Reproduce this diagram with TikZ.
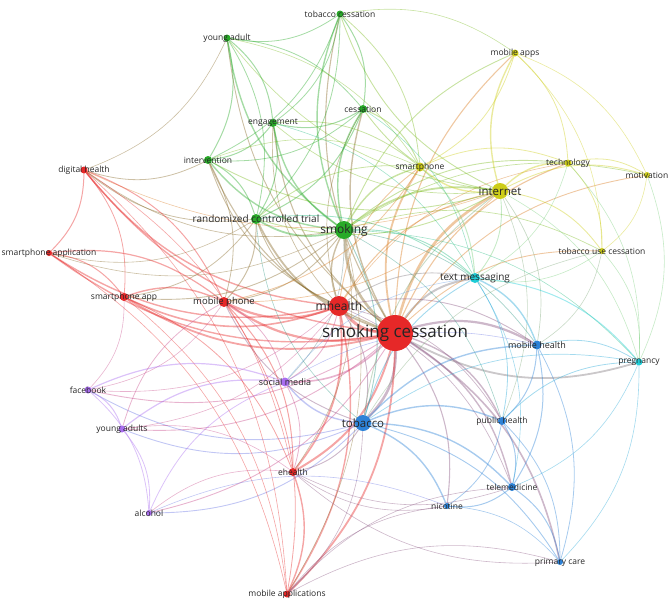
\documentclass[tikz,border=0pt]{standalone}
\usepackage{fontspec}
\setmainfont{Open Sans}
\usepackage{xcolor}
\usetikzlibrary{backgrounds}

\definecolor{cR}{RGB}{230,40,40}
\definecolor{cG}{RGB}{40,170,40}
\definecolor{cB}{RGB}{45,130,215}
\definecolor{cY}{RGB}{205,205,25}
\definecolor{cP}{RGB}{170,110,240}
\definecolor{cC}{RGB}{30,205,215}

\begin{document}
\begin{tikzpicture}[x=1pt, y=-1pt,
  kw/.style={circle, inner sep=0pt, draw=none},
  lbl/.style={inner sep=0pt, text=black!85},
  lnk/.style={draw opacity=0.42, line cap=round}]
  \useasboundingbox (0,0) rectangle (669,603);

  % keywords: name/x/y/cluster/radius
  \foreach \n/\x/\y/\c/\r in {
      sc/395/333/cR/18, mh/339/306/cR/10, smk/344/230/cG/9, int/500/191/cY/8,
      tob/363/423/cB/8, tm/475/278/cC/5, rct/256/219/cG/5, mp/224/302/cR/5,
      mobh/537/345/cB/4.5, sm/285/382/cP/4.5, sp/420/167/cY/4.5, ces/363/109/cG/4,
      eng/273/123/cG/4, itv/208/160/cG/4, eh/293/472/cR/4, sapp/124/297/cR/4,
      ph/502/421/cB/4, tmed/512/487/cB/4, tech/568/163/cY/3.5, tc/340/14/cG/3.5,
      ya/227/38/cG/3.5, ma/515/53/cY/3.5, mot/647/175/cY/3, dh/84/170/cR/3.5,
      spa/49/253/cR/3, tuc/602/251/cY/3, preg/639/362/cC/3.5, fb/88/390/cP/3.5,
      yas/122/429/cP/3.5, alc/149/513/cP/3, nic/447/506/cB/3, pc/560/562/cB/3,
      mapp/287/594/cR/3.5}{
    \node[kw, fill=\c, minimum size=2*\r pt] (\n) at (\x,\y) {};
    \xglobal\colorlet{k\n}{\c}
  }

  % links
  \begin{pgfonlayer}{background}
  \foreach \a/\b/\w in {
      sc/mh/3, sc/smk/2.6, sc/tob/2.6, sc/int/2.6, sc/tm/2, sc/mp/2.2, sc/sapp/1.8,
      sc/rct/1.8, sc/mobh/2.2, sc/eh/2, sc/mapp/1.8, sc/sp/1.8, sc/sm/1.6, sc/ces/1.4,
      sc/itv/1.1, sc/eng/1.1, sc/tc/1.1, sc/ya/.9, sc/ma/1.1, sc/tech/1.1, sc/mot/.9,
      sc/tuc/.9, preg/sc/1.8, sc/fb/.9, sc/yas/.9, sc/ph/1.4, sc/tmed/1.4, sc/alc/.9,
      sc/nic/1.1, sc/pc/1.6, sc/dh/1.4, sc/spa/1.4,
      mh/mp/2.2, mh/sapp/1.6, mh/spa/1.4, mh/dh/1.4, mh/smk/1.4, mh/eh/1.8,
      mh/mapp/1.4, mh/tob/.9, mh/int/1.1, mh/tm/.9, mh/rct/.9, mh/sm/.9, mh/mobh/.9,
      mh/sp/.9, mh/itv/.9, mh/eng/.7, mh/ph/.7, mh/tmed/.7, mh/fb/.6, mh/yas/.6,
      mh/ces/.7, mh/tech/.6,
      smk/rct/1.8, smk/ces/1.4, smk/eng/1.4, smk/itv/1.4, smk/ya/1.4, smk/tc/1.4,
      smk/int/1.8, smk/sp/1.4, smk/tm/.9, smk/tob/.9, smk/mp/.9, smk/sapp/.9, smk/ma/.9,
      smk/tech/.9, smk/mot/.7, smk/tuc/.7, smk/dh/.7, smk/mobh/.7, smk/sm/.7,
      smk/eh/.6, smk/preg/.6, smk/ph/.6, smk/mapp/.6, smk/spa/.6,
      tob/sm/1.4, tob/mobh/1.4, tob/ph/1.4, tob/tmed/1.4, tob/nic/1.4, tob/pc/.9,
      tob/fb/.9, tob/yas/.9, tob/alc/.9, tob/int/.9, tob/tm/.9, tob/eh/.9, tob/mp/.9,
      tob/preg/.7, tob/tuc/.6, tob/rct/.6, tob/mapp/.6,
      int/sp/1.4, int/ma/1.4, int/tech/1.4, int/mot/.9, int/tuc/.9, int/tm/.9,
      int/ces/.9, int/tc/.9, int/rct/.9, int/itv/.9, int/eng/.7, int/ya/.7,
      int/mobh/.7, int/mp/.7, int/dh/.6, int/preg/.6, int/ph/.6,
      tc/ya/.8, tc/ces/1, tc/eng/.8, tc/itv/.8, tc/rct/.8, tc/sp/.8, tc/ma/.6,
      ya/eng/1, ya/itv/1, ya/rct/.8, ya/ces/.8, ya/sp/.6, ya/dh/.6, ces/eng/1,
      ces/itv/.8, ces/rct/1, ces/sp/1, ces/tm/.6, eng/itv/1, eng/rct/1, eng/sp/.8,
      eng/tm/.6, itv/rct/1, itv/dh/.8, itv/sp/.6, itv/mp/.8, rct/mp/1,
      rct/sapp/.8, rct/dh/.8, rct/spa/.6, rct/tm/.8, rct/sp/.8,
      ma/sp/.8, ma/tech/.8, ma/mot/.6, ma/tuc/.6, sp/tech/.8, sp/tm/1, sp/mp/.8,
      tech/mot/.8, tech/tuc/.8, tech/tm/.6, mot/tuc/.6, mot/preg/.6, tech/preg/.6,
      tuc/mobh/.6, tuc/tm/.6, tuc/preg/.6,
      dh/spa/1, dh/sapp/.8, dh/mp/1, dh/eh/.6, spa/sapp/1, spa/mp/1.2,
      sapp/mp/1.4, sapp/eh/.8, mp/eh/1, mp/mapp/.8, eh/mapp/1.4, sapp/mapp/.6,
      spa/mapp/.6, dh/mapp/.6, mp/sm/.8, sapp/fb/.6, mp/fb/.6,
      fb/yas/1, fb/sm/1.2, fb/alc/.8, yas/sm/1.2, yas/alc/.8, alc/sm/.8,
      alc/nic/.6, yas/mp/.8, alc/eh/.6, yas/eh/.6, sm/eh/.8, sm/mobh/.6, sm/tm/.6,
      mobh/ph/1, mobh/tmed/1, mobh/pc/.8, mobh/preg/.8, tm/mobh/1.4, ph/tmed/1,
      ph/pc/.8, ph/nic/.8, ph/preg/.8, tmed/nic/1, tmed/pc/1, nic/pc/.6,
      tm/preg/1, tm/ph/.8, tm/tmed/.6, preg/pc/.6, preg/tmed/.6, nic/eh/.6,
      pc/eh/.6, tmed/eh/.6, mapp/tmed/.6, mapp/nic/.6, mapp/pc/.6}
    \draw[lnk, line width=\w, draw=k\a!50!k\b] (\a) to[bend left=22] (\b);
  \end{pgfonlayer}

  % labels
  \foreach \n/\t/\s in {
      sc/smoking cessation/17, mh/mhealth/12, smk/smoking/12, int/internet/11.5,
      tob/tobacco/11.5, tm/text messaging/10, rct/randomized controlled trial/10,
      mp/mobile phone/9.5, mobh/mobile health/9, sm/social media/9,
      sp/smartphone/8.5, ces/cessation/8.5, eng/engagement/8.5,
      itv/intervention/8.5, eh/ehealth/8.5, sapp/smartphone app/8.5,
      ph/public health/8.5, tmed/telemedicine/8.5, tech/technology/8.5,
      tc/tobacco cessation/8.5, ya/young adult/8.5, ma/mobile apps/8.5,
      mot/motivation/8.5, dh/digital health/8.5, spa/smartphone application/8.5,
      tuc/tobacco use cessation/8.5, preg/pregnancy/8.5, fb/facebook/8.5,
      yas/young adults/8.5, alc/alcohol/8.5, nic/nicotine/8.5,
      pc/primary care/8.5, mapp/mobile applications/8.5}
    \node[lbl, font=\fontsize{\s}{\s}\selectfont] (\n-l) at (\n) {\t};
\end{tikzpicture}
\end{document}
